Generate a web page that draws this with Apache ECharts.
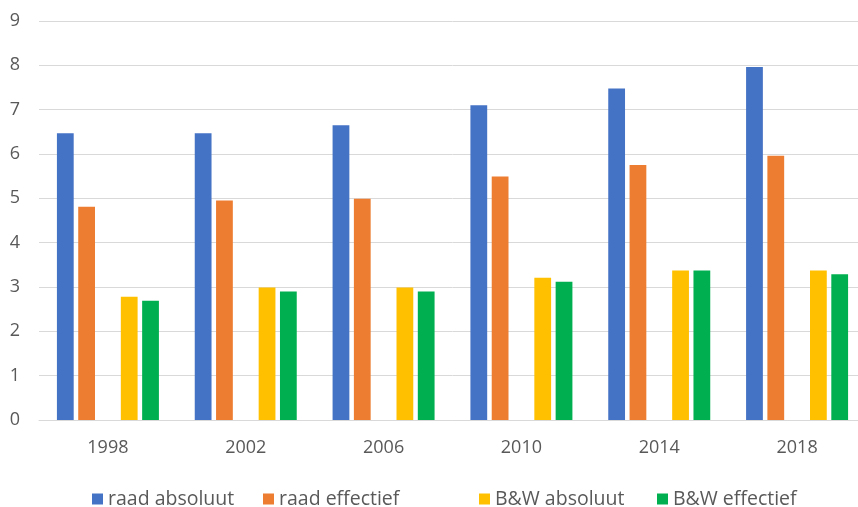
<!DOCTYPE html>
<html><head><meta charset="utf-8">
<script src="https://cdn.jsdelivr.net/npm/echarts@6/dist/echarts.min.js"></script>
<style>html,body{margin:0;padding:0;background:#fff;overflow:hidden;width:858px;height:507px}#c{width:866px;height:507px}</style>
</head><body><div id="c"></div>
<script>
var categories = ['1998','2002','2006','2010','2014','2018'];
var raadAbsoluut = [6.47, 6.47, 6.65, 7.1, 7.48, 7.96];
var raadEffectief = [4.81, 4.95, 4.99, 5.49, 5.75, 5.96];
var bwAbsoluut = [2.78, 2.99, 2.99, 3.21, 3.37, 3.37];
var bwEffectief = [2.69, 2.9, 2.9, 3.12, 3.37, 3.29];
var emptySeries = [null, null, null, null, null, null];
var yTicks = [0,1,2,3,4,5,6,7,8,9];

var names = ['raad absoluut','raad effectief','B&W absoluut','B&W effectief'];
var colors = ['#4472C4','#ED7D31','#FFC000','#00B050'];
var legendLeft = [92, 263, 479, 657];
var font = 'Open Sans';

var chart = echarts.init(document.getElementById('c'));
var legends = names.map(function(n, i){
  return {
    data: [n], left: legendLeft[i], top: 489, itemWidth: 11, itemHeight: 11, itemGap: 6,
    padding: 0,
    icon: 'rect', textStyle: {color: '#595959', fontSize: 19.5, fontFamily: font, padding: [0,0,0,0]}, selectedMode: false
  };
});
chart.setOption({
  animation: false,
  textStyle: {fontFamily: font},
  grid: {left: 39, right: 0, top: 21, bottom: 87},
  legend: legends,
  xAxis: {
    type: 'category', data: categories,
    axisLine: {lineStyle: {color: '#d9d9d9', width: 1}},
    axisTick: {show: false},
    axisLabel: {color: '#595959', fontSize: 18, margin: 19, fontFamily: font}
  },
  yAxis: {
    type: 'value', min: yTicks[0], max: yTicks[yTicks.length-1], interval: 1,
    axisLine: {show: false}, axisTick: {show: false},
    axisLabel: {color: '#595959', fontSize: 18, margin: 19, fontFamily: font},
    splitLine: {lineStyle: {color: '#d9d9d9', width: 1}}
  },
  series: [
    {name: names[0], type: 'bar', data: raadAbsoluut, itemStyle: {color: colors[0]}, barGap: '27%', barCategoryGap: '26%'},
    {name: names[1], type: 'bar', data: raadEffectief, itemStyle: {color: colors[1]}},
    {name: '_leeg', type: 'bar', data: emptySeries, itemStyle: {color: 'rgba(0,0,0,0)'}},
    {name: names[2], type: 'bar', data: bwAbsoluut, itemStyle: {color: colors[2]}},
    {name: names[3], type: 'bar', data: bwEffectief, itemStyle: {color: colors[3]}}
  ]
});
</script></body></html>
